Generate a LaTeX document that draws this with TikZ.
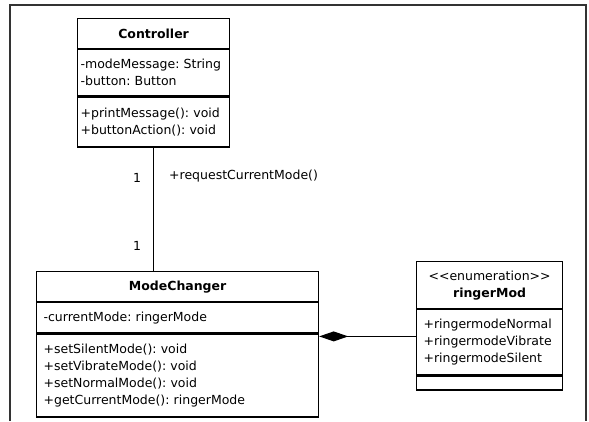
\documentclass[tikz,border=0pt]{standalone}
\usepackage{fontspec}
\setmainfont{DejaVu Sans}
\usetikzlibrary{arrows.meta}
\frenchspacing

\begin{document}
\begin{tikzpicture}[x=1pt, y=-1pt,
	part/.style={draw, line width=1.2pt, anchor=north west, inner ysep=0pt, align=left,
		font=\fontsize{12.5}{17}\selectfont},
	title/.style={align=center, font=\fontsize{12.5}{17}\selectfont\bfseries},
	ctrl/.style={text width=146pt, inner xsep=3pt},
	changer/.style={text width=268pt, inner xsep=7pt},
	enumbox/.style={text width=132pt, inner xsep=7pt},
	label/.style={inner sep=0pt, font=\fontsize{12.5}{17}\selectfont}]
	\useasboundingbox (0,0) rectangle (589,421);
	\draw[line width=1.2pt, black!80] (10,421) -- (10,5) -- (586,5) -- (586,421);
	% Controller
	\node[part, ctrl, title, minimum height=30pt] (ctrlTitle) at (77,18) {Controller};
	\node[part, ctrl, minimum height=46pt] (ctrlAttrs) at (ctrlTitle.south west) {-modeMessage: String\\-button: Button};
	\node[part, ctrl, minimum height=50pt] (ctrlOps) at (ctrlAttrs.south west) {+printMessage(): void\\+buttonAction(): void};
	% ModeChanger
	\node[part, changer, title, minimum height=30pt] (mcTitle) at (36,271) {ModeChanger};
	\node[part, changer, minimum height=30pt] (mcAttrs) at (mcTitle.south west) {-currentMode: ringerMode};
	\node[part, changer, minimum height=83pt] (mcOps) at (mcAttrs.south west) {+setSilentMode(): void\\+setVibrateMode(): void\\+setNormalMode(): void\\+getCurrentMode(): ringerMode};
	% ringerMod
	\node[part, enumbox, align=center, minimum height=47pt] (enumTitle) at (416,261) {<{}<enumeration>{}>\\\textbf{ringerMod}};
	\node[part, enumbox, minimum height=65pt] (enumAttrs) at (enumTitle.south west) {+ringermodeNormal\\+ringermodeVibrate\\+ringermodeSilent};
	\node[part, enumbox, minimum height=14pt] (enumOps) at (enumAttrs.south west) {};
	% connectors
	\draw[line width=1.2pt] (ctrlOps.south) -- (ctrlOps.south |- mcTitle.north)
		node[pos=0.244, left, label, xshift=-12pt] (multTop) {1}
		node[pos=0.23, right, label, xshift=15pt] (request) {+requestCurrentMode()}
		node[pos=0.795, left, label, xshift=-12pt] (multBottom) {1};
	\draw[line width=1.2pt, -{Diamond[length=29pt, width=10pt]}] ([yshift=-3pt]enumAttrs.west |- mcOps.north east) -- ([yshift=-3pt]mcOps.north east);
\end{tikzpicture}
\end{document}
